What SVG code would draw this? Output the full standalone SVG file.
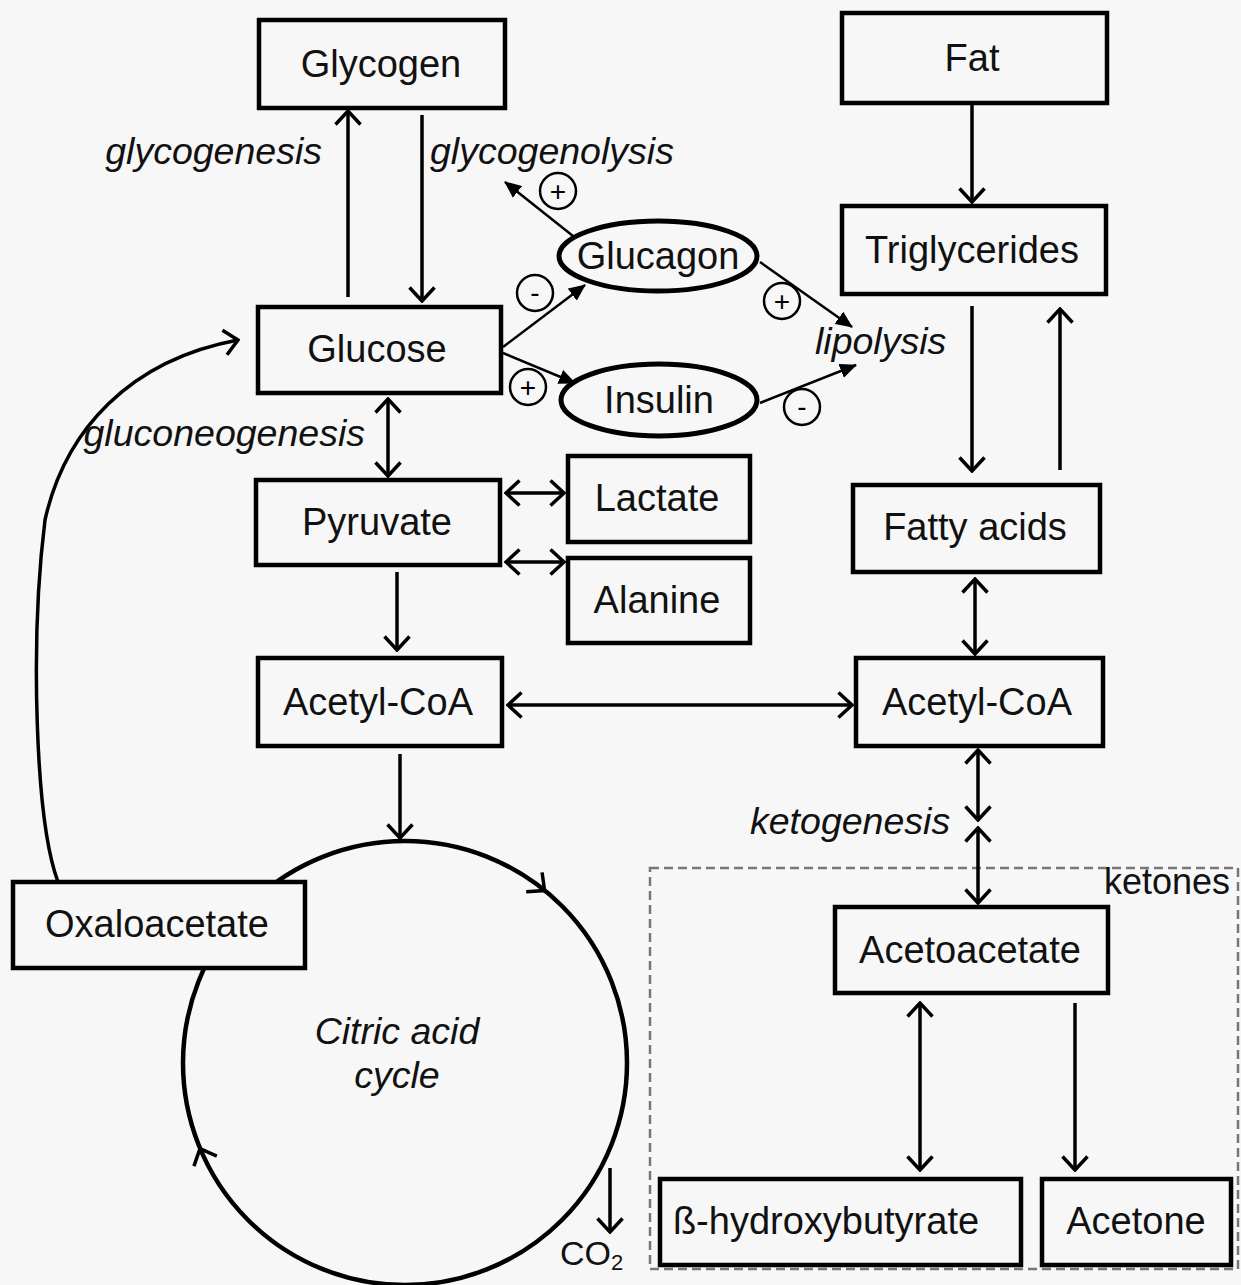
<svg xmlns="http://www.w3.org/2000/svg" width="1241" height="1285" viewBox="0 0 1241 1285">
<defs>
<style>
.box{fill:#f7f7f7;stroke:#000;stroke-width:4.5}
.ell{fill:#f7f7f7;stroke:#000;stroke-width:5}
.t{font-family:"Liberation Sans",Arial,sans-serif;font-size:38px;fill:#111;text-anchor:middle}
.i{font-family:"Liberation Sans",Arial,sans-serif;font-size:37.5px;font-style:italic;fill:#111}
.a{fill:none;stroke:#000;stroke-width:3.5}
.ar{marker-end:url(#chev)}
.da{marker-start:url(#chev);marker-end:url(#chev)}
.fa{fill:none;stroke:#000;stroke-width:2.5;marker-end:url(#tri)}
.sg circle{fill:none;stroke:#000;stroke-width:2.5}
.sg text{font-family:"Liberation Sans",Arial,sans-serif;font-size:28px;text-anchor:middle;fill:#000}
.dash{fill:none;stroke:#777;stroke-width:2.5;stroke-dasharray:9 5}
</style>
<marker id="chev" viewBox="0 0 17 28" markerWidth="17" markerHeight="28" refX="15" refY="14" orient="auto-start-reverse" markerUnits="userSpaceOnUse">
<path d="M1.5,1.5 L15,14 L1.5,26.5" fill="none" stroke="#000" stroke-width="3.5"/>
</marker>
<marker id="tri" viewBox="0 0 17 15" markerWidth="17" markerHeight="15" refX="16" refY="7.5" orient="auto" markerUnits="userSpaceOnUse">
<path d="M0,0 L17,7.5 L0,15 z" fill="#000"/>
</marker>
</defs>
<rect x="0" y="0" width="1241" height="1285" fill="#f7f7f7"/>

<g id="ketones-group">
<rect class="dash" x="650" y="868" width="588" height="401"/>
<text class="t" x="1167" y="894" style="font-size:36px">ketones</text>
</g>

<g id="citric-acid-cycle">
<circle cx="405" cy="1063" r="222" fill="none" stroke="#000" stroke-width="4.5"/>
<text class="i" x="397" y="1044" style="text-anchor:middle">Citric acid</text>
<text class="i" x="397" y="1088" style="text-anchor:middle">cycle</text>
</g>

<g id="connectors">
<line class="a ar" x1="348" y1="297" x2="348" y2="111"/>
<line class="a ar" x1="422" y1="115" x2="422" y2="301"/>
<line class="a ar" x1="972" y1="104" x2="972" y2="202"/>
<line class="a ar" x1="972" y1="306" x2="972" y2="471"/>
<line class="a ar" x1="1060" y1="470" x2="1060" y2="309"/>
<line class="a da" x1="388" y1="399" x2="388" y2="476"/>
<line class="a da" x1="506" y1="493" x2="564" y2="493"/>
<line class="a da" x1="506" y1="562" x2="564" y2="562"/>
<line class="a ar" x1="397" y1="572" x2="397" y2="650"/>
<line class="a da" x1="975" y1="579" x2="975" y2="654"/>
<line class="a da" x1="508" y1="705" x2="852" y2="705"/>
<line class="a ar" x1="400" y1="754" x2="400" y2="838"/>
<line class="a da" x1="978" y1="750" x2="978" y2="820"/>
<line class="a da" x1="978" y1="828" x2="978" y2="903"/>
<line class="a da" x1="920" y1="1003" x2="920" y2="1170"/>
<line class="a ar" x1="1075" y1="1003" x2="1075" y2="1170"/>
<line class="a ar" x1="610" y1="1168" x2="610" y2="1232"/>
<path class="a ar" d="M58 882 C35 820,30 640,45 520 C65 430,130 360,238 340"/>
<path class="a ar" d="M542.4 888.8 L544.6 890.6"/>
<path class="a ar" d="M201 1151 L200 1148.7"/>
<line class="fa" x1="573" y1="236" x2="505" y2="182"/>
<line class="fa" x1="503" y1="347" x2="585" y2="285"/>
<line class="fa" x1="503" y1="353" x2="575" y2="383"/>
<line class="fa" x1="760" y1="262" x2="852" y2="327"/>
<line class="fa" x1="760" y1="403" x2="856" y2="365"/>
</g>

<g id="signs" class="sg">
<circle cx="558" cy="191" r="18"/><text x="558" y="201">+</text>
<circle cx="535" cy="293" r="18"/><text x="535" y="302">-</text>
<circle cx="528" cy="387" r="18"/><text x="528" y="397">+</text>
<circle cx="782" cy="301" r="18"/><text x="782" y="311">+</text>
<circle cx="802" cy="407" r="18"/><text x="802" y="416">-</text>
</g>

<g id="labels">
<text class="i" x="322" y="164" style="text-anchor:end">glycogenesis</text>
<text class="i" x="430" y="164">glycogenolysis</text>
<text class="i" x="365" y="446" style="text-anchor:end">gluconeogenesis</text>
<text class="i" x="815" y="354">lipolysis</text>
<text class="i" x="750" y="834">ketogenesis</text>
<text class="t" x="560" y="1265" style="text-anchor:start;font-size:34px">CO<tspan font-size="22" dy="5">2</tspan></text>
</g>

<g id="glycogen"><rect class="box" x="259" y="20" width="246" height="88"/><text class="t" x="381" y="77">Glycogen</text></g>
<g id="fat"><rect class="box" x="842" y="13" width="265" height="90"/><text class="t" x="972" y="71">Fat</text></g>
<g id="triglycerides"><rect class="box" x="842" y="206" width="264" height="88"/><text class="t" x="972" y="263">Triglycerides</text></g>
<g id="glucose"><rect class="box" x="258" y="307" width="243" height="86"/><text class="t" x="377" y="362">Glucose</text></g>
<g id="glucagon"><ellipse class="ell" cx="658" cy="256" rx="99" ry="35"/><text class="t" x="658" y="269">Glucagon</text></g>
<g id="insulin"><ellipse class="ell" cx="659" cy="400" rx="98" ry="36"/><text class="t" x="659" y="413">Insulin</text></g>
<g id="pyruvate"><rect class="box" x="256" y="480" width="244" height="85"/><text class="t" x="377" y="535">Pyruvate</text></g>
<g id="lactate"><rect class="box" x="568" y="456" width="182" height="86"/><text class="t" x="657" y="511">Lactate</text></g>
<g id="alanine"><rect class="box" x="568" y="558" width="182" height="85"/><text class="t" x="657" y="613">Alanine</text></g>
<g id="fatty-acids"><rect class="box" x="853" y="485" width="247" height="87"/><text class="t" x="975" y="540">Fatty acids</text></g>
<g id="acetyl-coa-left"><rect class="box" x="258" y="658" width="244" height="88"/><text class="t" x="378" y="715">Acetyl-CoA</text></g>
<g id="acetyl-coa-right"><rect class="box" x="856" y="658" width="247" height="88"/><text class="t" x="977" y="715">Acetyl-CoA</text></g>
<g id="oxaloacetate"><rect class="box" x="13" y="882" width="292" height="86"/><text class="t" x="157" y="937">Oxaloacetate</text></g>
<g id="acetoacetate"><rect class="box" x="835" y="907" width="273" height="86"/><text class="t" x="970" y="963">Acetoacetate</text></g>
<g id="hydroxybutyrate"><rect class="box" x="660" y="1179" width="361" height="86"/><text class="t" x="826" y="1234">ß-hydroxybutyrate</text></g>
<g id="acetone"><rect class="box" x="1042" y="1179" width="189" height="86"/><text class="t" x="1136" y="1234">Acetone</text></g>
</svg>
